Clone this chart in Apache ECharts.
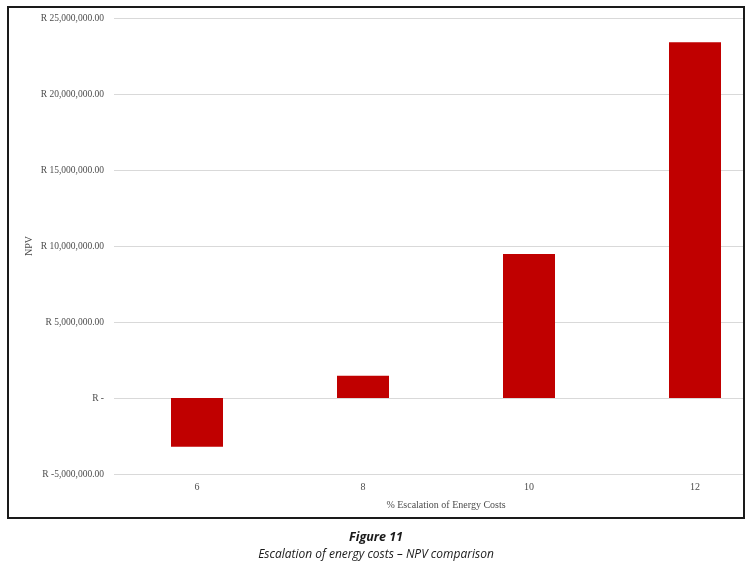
<!DOCTYPE html>
<html>
<head>
<meta charset="utf-8">
<script src="https://cdn.jsdelivr.net/npm/echarts@6/dist/echarts.min.js"></script>
<style>
html,body{margin:0;padding:0;background:#fff;width:752px;height:566px;overflow:hidden;}
#chart{width:800px;height:566px;}
</style>
</head>
<body>
<div id="chart"></div>
<script>
var categories = ['6', '8', '10', '12'];
var npvValues = [-3200000, 1470000, 9470000, 23400000];
var yMin = -5000000, yMax = 25000000, yStep = 5000000;
var xAxisTitle = '% Escalation of Energy Costs';
var yAxisTitle = 'NPV';
var figureTitle = 'Figure 11';
var figureCaption = 'Escalation of energy costs \u2013 NPV comparison';

function fmtRand(v) {
  if (v === 0) return 'R -';
  var a = Math.abs(v);
  var s = a.toFixed(2).replace(/\B(?=(\d{3})+(?!\d))/g, ',');
  return 'R ' + (v < 0 ? '-' : '') + s;
}

var chart = echarts.init(document.getElementById('chart'), null, {renderer: 'canvas'});
var serif = '"Liberation Serif", "DejaVu Serif", serif';
chart.setOption({
  animation: false,
  backgroundColor: '#ffffff',
  grid: {left: 114, top: 18, width: 664, height: 456, containLabel: false},
  xAxis: {
    type: 'category',
    data: categories,
    name: xAxisTitle,
    nameLocation: 'middle',
    nameGap: 26,
    nameTextStyle: {fontFamily: serif, fontSize: 10, color: '#4d4d4d'},
    axisLine: {show: false},
    axisTick: {show: false},
    axisLabel: {fontFamily: serif, fontSize: 10, color: '#4d4d4d', margin: 8}
  },
  yAxis: {
    type: 'value',
    min: yMin, max: yMax, interval: yStep,
    name: yAxisTitle,
    nameLocation: 'middle',
    nameRotate: 90,
    nameGap: 80,
    nameMoveOverlap: false,
    nameTextStyle: {fontFamily: serif, fontSize: 10, color: '#4d4d4d'},
    axisLine: {show: false},
    axisTick: {show: false},
    axisLabel: {fontFamily: serif, fontSize: 9.5, color: '#4d4d4d', margin: 10, formatter: fmtRand},
    splitLine: {lineStyle: {color: '#d9d9d9', width: 1}}
  },
  series: [{
    type: 'bar',
    data: npvValues,
    barWidth: 52,
    itemStyle: {color: '#c00000'}
  }],
  graphic: [
    {type: 'rect', z: 100, shape: {x: 745, y: 0, width: 60, height: 566}, style: {fill: '#ffffff'}},
    {type: 'rect', z: 101, shape: {x: 8, y: 7, width: 736, height: 511}, style: {fill: 'none', stroke: '#1a1a1a', lineWidth: 2}},
    {type: 'text', z: 101, x: 376, y: 537, style: {text: figureTitle, textAlign: 'center', textVerticalAlign: 'middle', font: 'italic bold 12.5px "Open Sans", "Noto Sans", sans-serif', fill: '#1a1a1a'}},
    {type: 'text', z: 101, x: 376, y: 555, style: {text: figureCaption, textAlign: 'center', textVerticalAlign: 'middle', font: 'italic 12px "Open Sans", "Noto Sans", sans-serif', fill: '#1a1a1a'}}
  ]
});
</script>
</body>
</html>
